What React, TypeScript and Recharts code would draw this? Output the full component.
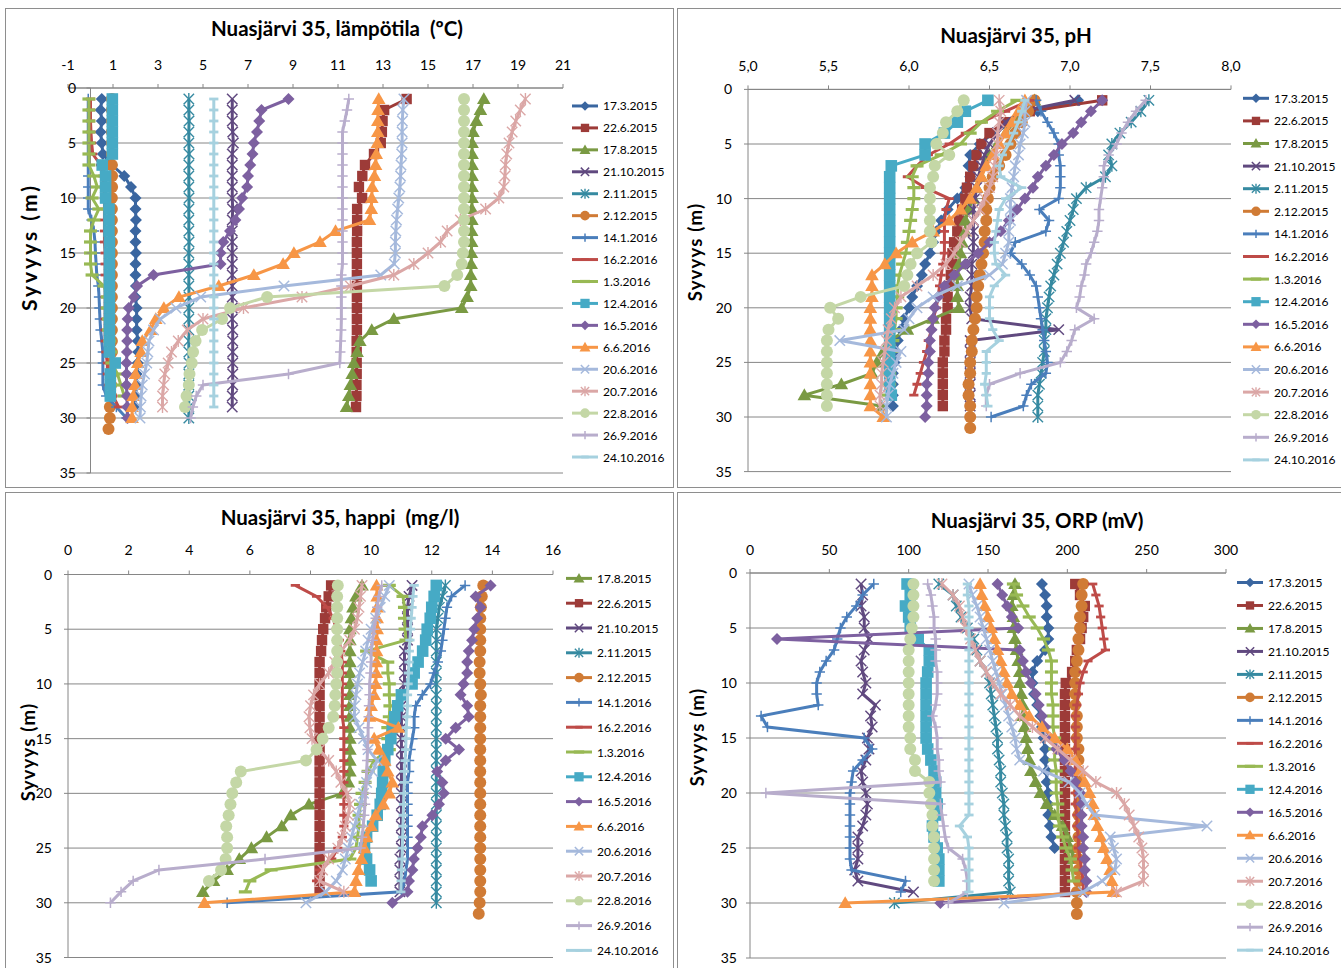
import React from 'react';
import { ScatterChart, Scatter, XAxis, YAxis, CartesianGrid, ReferenceLine } from 'recharts';

const FONT = 'Lato, "Open Sans", Arial, sans-serif';
const AXIS_GRAY = '#868686';

const ALL_DATES = ['17.3.2015','22.6.2015','17.8.2015','21.10.2015','2.11.2015','2.12.2015','14.1.2016','16.2.2016','1.3.2016','12.4.2016','16.5.2016','6.6.2016','20.6.2016','20.7.2016','22.8.2016','26.9.2016','24.10.2016'];
const SERIES_COLORS = ['#3A66A0','#9D3B38','#7A9A43','#60497F','#368AA1','#D07B35','#4A7EBB','#BE4B48','#98B954','#46AAC5','#7D60A0','#F79646','#A5B9DC','#DBA7A6','#C4D7A6','#B8ADCC','#A6D1DF'];
const SERIES_MARKERS = ['diamond','square','triangle','x','star','circle','plus','dash','longdash','bigsquare','diamond','triangle','x','star','circle','plus','dash'];

const DEPTH_TICKS = [0, 5, 10, 15, 20, 25, 30, 35];

// ---------- Lämpötila (°C), values by depth 1,2,3... m ----------
const TEMP_DATES = ALL_DATES;
const TEMP_VALUES: number[][] = [
  [0.5,0.45,0.5,0.45,0.5,0.55,0.95,1.5,1.8,2.0,2.0,2.02,2.0,2.0,2.02,2.0,2.0,2.02,2.0,2.05,2.05,2.05,2.1,2.12,2.1,2.05,2.05,2.0,2.0],
  [14.05,13.05,12.98,12.95,12.9,12.6,12.2,12.08,11.93,12.07,11.85,11.85,11.85,11.84,11.84,11.84,11.84,11.84,11.84,11.84,11.84,11.84,11.83,11.83,11.83,11.83,11.82,11.82,11.8],
  [17.48,17.33,17.15,17.0,16.96,16.96,16.96,16.96,16.96,16.96,16.95,16.95,16.94,16.94,16.93,16.92,16.9,16.9,16.74,16.5,13.48,12.5,11.97,11.85,11.7,11.63,11.55,11.48,11.38],
  [6.3,6.3,6.3,6.32,6.35,6.3,6.3,6.3,6.3,6.3,6.32,6.3,6.3,6.3,6.3,6.3,6.3,6.3,6.3,6.3,6.3,6.32,6.32,6.32,6.32,6.32,6.32,6.3,6.3],
  [4.37,4.37,4.38,4.37,4.37,4.38,4.37,4.37,4.37,4.38,4.37,4.37,4.37,4.38,4.37,4.37,4.37,4.37,4.38,4.37,4.37,4.37,4.37,4.37,4.38,4.37,4.37,4.37,4.37,4.37],
  [0.95,0.95,0.95,0.95,0.95,0.95,0.95,0.96,0.96,0.95,0.95,0.95,0.95,0.95,0.95,0.95,0.95,0.95,0.95,0.95,0.95,0.95,0.95,0.95,0.93,0.93,0.92,0.92,0.86,0.86,0.8],
  [-0.1,-0.1,-0.1,-0.1,-0.1,-0.1,-0.1,-0.1,-0.1,-0.1,-0.1,0.05,0.15,0.2,0.22,0.25,0.28,0.35,0.38,0.4,0.42,0.45,0.5,0.55,0.55,0.55,0.55,0.7,1.15,1.6],
  [0.0,0.0,0.0,0.02,0.05,0.1,0.45,0.55,0.6,0.62,0.62,0.62,0.62,0.62,0.65,0.65,0.65,0.65,0.65,0.65,0.65,0.65,0.65,0.68,0.75,0.75,0.8,1.0,1.25],
  [-0.07,-0.07,-0.07,-0.07,-0.07,-0.07,-0.07,0.15,0.3,0.07,0.37,0.15,0.0,0.0,0.0,0.0,0.07,0.6,0.75,0.75,0.8,0.8,0.85,0.9,0.95,1.2,1.35,1.5],
  [0.97,0.97,0.97,0.97,0.97,0.97,0.52,0.67,0.67,0.67,0.82,0.82,0.82,0.84,0.84,0.84,0.84,0.84,0.84,0.84,0.84,0.84,0.84,0.84,1.1,0.88,0.88,0.88],
  [8.8,7.6,7.5,7.4,7.26,7.2,7.1,7.0,6.96,6.74,6.6,6.44,6.2,5.9,5.78,5.78,2.8,2.07,1.93,1.7,1.65,1.63,1.63,1.62,1.6,1.6,1.6,1.62,1.63,1.65],
  [12.81,12.78,12.77,12.77,12.75,12.7,12.67,12.62,12.52,12.5,12.48,12.4,10.89,10.2,9.04,8.56,7.26,5.7,3.93,3.26,2.9,2.67,2.3,2.25,2.1,2.0,1.98,1.9,1.85,1.85],
  [13.93,13.88,13.86,13.85,13.85,13.83,13.8,13.78,13.75,13.7,13.65,13.6,13.57,13.55,13.55,13.5,12.9,8.6,4.9,3.8,3.1,2.8,2.6,2.55,2.5,2.4,2.3,2.25,2.22,2.2],
  [19.33,19.1,18.9,18.74,18.6,18.5,18.44,18.42,18.37,18.15,17.56,16.44,15.85,15.56,15.0,14.37,13.48,11.55,9.4,6.8,5.0,4.3,3.9,3.6,3.45,3.3,3.25,3.2,3.2],
  [16.6,16.6,16.6,16.6,16.6,16.6,16.6,16.6,16.6,16.6,16.6,16.6,16.6,16.6,16.55,16.5,16.3,15.73,7.85,6.2,5.85,4.96,4.67,4.56,4.5,4.4,4.37,4.27,4.2],
  [11.48,11.4,11.3,11.2,11.2,11.2,11.2,11.2,11.2,11.2,11.2,11.2,11.2,11.2,11.2,11.2,11.15,11.15,11.15,11.15,11.15,11.14,11.12,11.1,11.08,8.8,5.0,4.7,4.55,4.45],
  [5.48,5.48,5.48,5.48,5.48,5.48,5.48,5.48,5.48,5.48,5.48,5.48,5.48,5.48,5.48,5.48,5.48,5.48,5.48,5.48,5.48,5.48,5.48,5.48,5.48,5.48,5.48,5.48,5.48],
];
const TEMP_TICKS = [-1, 1, 3, 5, 7, 9, 11, 13, 15, 17, 19, 21];

// ---------- pH ----------
const PH_DATES = ALL_DATES;
const PH_VALUES: number[][] = [
  [7.05,6.8,6.65,6.52,6.44,6.38,6.37,6.38,6.35,6.3,6.24,6.2,6.17,6.15,6.13,6.1,6.08,6.05,6.02,6.0,5.97,5.95,5.93,5.92,5.91,5.9,5.9,5.9,5.9],
  [7.2,6.75,6.6,6.5,6.45,6.42,6.4,6.38,6.36,6.35,6.33,6.31,6.3,6.28,6.27,6.27,6.26,6.25,6.24,6.24,6.23,6.23,6.22,6.22,6.21,6.21,6.21,6.21,6.21],
  [6.78,6.72,6.65,6.6,6.55,6.5,6.47,6.45,6.42,6.4,6.37,6.35,6.35,6.33,6.32,6.31,6.3,6.3,6.3,6.31,6.15,5.99,5.88,5.84,5.8,5.77,5.58,5.35,5.83],
  [7.03,6.7,6.6,6.55,6.5,6.47,6.45,6.43,6.42,6.41,6.4,6.4,6.4,6.4,6.4,6.39,6.39,6.39,6.38,6.38,6.39,6.93,6.38,6.38,6.38,6.38,6.38,6.38,6.38],
  [7.49,7.44,7.38,7.31,7.26,7.24,7.26,7.22,7.1,7.04,7.02,7.0,6.98,6.96,6.94,6.92,6.9,6.88,6.87,6.86,6.85,6.85,6.84,6.84,6.83,6.82,6.81,6.8,6.8,6.8],
  [6.78,6.74,6.7,6.66,6.63,6.6,6.56,6.52,6.5,6.49,6.48,6.48,6.47,6.47,6.46,6.45,6.44,6.43,6.42,6.42,6.41,6.4,6.39,6.39,6.38,6.38,6.37,6.37,6.38,6.38,6.38],
  [6.79,6.82,6.86,6.9,6.93,6.93,6.94,6.94,6.94,6.93,6.81,6.87,6.85,6.66,6.63,6.7,6.75,6.79,6.8,6.81,6.82,6.83,6.84,6.85,6.86,6.85,6.76,6.73,6.71,6.51],
  [6.75,6.6,6.45,6.35,6.25,6.12,6.05,5.99,6.1,6.25,6.23,6.22,6.22,6.22,6.22,6.21,6.2,6.19,6.18,6.17,6.15,6.14,6.12,6.11,6.09,6.07,6.05,6.03],
  [6.67,6.55,6.45,6.38,6.32,6.2,6.05,6.02,6.03,6.03,6.02,6.01,6.0,5.99,5.98,5.96,5.94,5.93,5.93,5.92,5.92,5.91,5.9,5.9,5.89,5.88,5.88,5.87],
  [6.49,6.35,6.3,6.22,6.1,6.1,5.89,5.88,5.88,5.88,5.88,5.88,5.88,5.88,5.88,5.88,5.88,5.88,5.88,5.88,5.88,5.88,5.88,5.88,5.88,5.88,5.88,5.89],
  [7.2,7.13,7.07,7.02,6.95,6.9,6.85,6.8,6.77,6.72,6.67,6.62,6.57,6.5,6.43,6.35,6.28,6.22,6.18,6.16,6.15,6.14,6.13,6.13,6.12,6.12,6.11,6.11,6.11,6.1],
  [6.72,6.68,6.64,6.6,6.56,6.52,6.48,6.45,6.42,6.38,6.32,6.25,6.15,6.02,5.92,5.85,5.77,5.77,5.77,5.76,5.76,5.76,5.76,5.76,5.76,5.76,5.76,5.76,5.76,5.84],
  [6.73,6.72,6.72,6.71,6.69,6.68,6.66,6.65,6.64,6.63,6.63,6.63,6.62,6.62,6.6,6.58,6.5,6.3,6.15,6.05,6.0,5.97,5.57,5.95,5.92,5.9,5.88,5.87,5.86,5.86],
  [6.56,6.57,6.56,6.55,6.55,6.54,6.53,6.52,6.5,6.47,6.44,6.4,6.36,6.32,6.28,6.23,6.15,6.05,5.95,5.91,5.89,5.87,5.86,5.85,5.84,5.83,5.83,5.82,5.82],
  [6.34,6.3,6.23,6.21,6.17,6.25,6.16,6.15,6.13,6.13,6.13,6.13,6.13,6.14,6.05,6.01,5.99,5.97,5.7,5.51,5.56,5.5,5.49,5.49,5.49,5.49,5.49,5.49,5.49],
  [7.47,7.41,7.36,7.32,7.29,7.24,7.21,7.21,7.2,7.19,7.18,7.18,7.17,7.15,7.13,7.1,7.09,7.07,7.06,7.04,7.15,7.03,7.01,6.98,6.94,6.69,6.5,6.48,6.48],
  [6.72,6.7,6.68,6.65,6.62,6.58,6.56,6.57,6.7,6.6,6.56,6.55,6.54,6.53,6.53,6.54,6.6,6.53,6.5,6.5,6.5,6.52,6.56,6.48,6.48,6.48,6.47,6.48,6.49],
];
const PH_TICKS = [5, 5.5, 6, 6.5, 7, 7.5, 8];

// ---------- Happi (mg/l) ----------
const O2_DATES = ['17.8.2015','22.6.2015','21.10.2015','2.11.2015','2.12.2015','14.1.2016','16.2.2016','1.3.2016','12.4.2016','16.5.2016','6.6.2016','20.6.2016','20.7.2016','22.8.2016','26.9.2016','24.10.2016'];
const O2_VALUES: number[][] = [
  [9.7,9.5,9.4,9.35,9.3,9.3,9.3,9.3,9.3,9.3,9.3,9.3,9.3,9.3,9.3,9.3,9.3,9.3,9.25,9.05,7.95,7.35,7.05,6.55,6.05,5.65,5.25,4.8,4.45],
  [8.68,8.6,8.52,8.48,8.42,8.38,8.35,8.3,8.3,8.3,8.3,8.3,8.3,8.3,8.3,8.3,8.3,8.3,8.3,8.3,8.3,8.3,8.3,8.3,8.3,8.3,8.3,8.3,8.3],
  [11.35,11.25,11.2,11.2,11.2,11.2,11.1,11.1,11.1,11.1,11.0,11.0,11.0,11.0,11.0,11.0,11.0,11.0,11.0,11.0,11.0,11.0,11.0,11.0,11.0,10.95,10.95,10.95,10.95],
  [12.45,12.35,12.25,12.2,12.15,12.15,12.15,12.15,12.15,12.15,12.15,12.15,12.15,12.15,12.15,12.15,12.15,12.15,12.15,12.15,12.15,12.15,12.15,12.15,12.15,12.15,12.15,12.15,12.15,12.15],
  [13.7,13.65,13.62,13.6,13.6,13.6,13.6,13.58,13.58,13.6,13.62,13.6,13.6,13.6,13.6,13.6,13.6,13.6,13.6,13.6,13.6,13.6,13.6,13.6,13.6,13.6,13.6,13.6,13.6,13.58,13.55],
  [13.1,12.65,12.5,12.45,12.4,12.35,12.3,12.2,12.07,11.96,11.69,11.47,11.42,11.42,11.36,11.3,11.25,11.25,11.2,11.2,11.2,11.2,11.2,11.2,11.2,11.2,11.15,11.1,11.0,5.25],
  [7.5,8.2,8.55,8.75,8.85,8.95,9.0,9.05,9.05,9.05,9.05,9.05,9.05,9.1,9.1,9.1,9.1,9.1,9.1,9.1,9.1,9.1,9.1,9.05,8.9,8.7,8.3,8.2],
  [10.6,11.05,11.1,11.1,11.12,11.15,9.85,10.55,10.55,10.6,10.6,10.62,10.6,10.55,10.55,10.6,10.1,9.9,9.8,9.7,9.65,9.6,9.6,9.55,9.5,9.3,6.7,6.0,5.85],
  [12.15,12.08,12.0,11.95,11.85,11.8,11.7,11.55,11.42,11.35,11.0,10.88,10.78,10.7,10.65,10.55,10.45,10.4,10.38,10.35,10.3,10.2,10.05,9.85,9.78,9.85,9.95,10.0],
  [13.94,13.45,13.61,13.5,13.4,13.33,13.22,13.17,13.17,13.05,12.95,13.17,13.22,12.79,12.46,12.9,12.46,12.18,12.35,12.4,12.24,12.02,11.69,11.64,11.53,11.41,11.36,11.25,11.2,10.7],
  [10.18,10.2,10.2,10.2,10.2,10.18,10.18,10.17,10.17,10.15,10.1,10.0,9.95,10.9,10.1,10.25,10.45,10.55,10.7,10.6,10.4,10.15,10.0,9.85,9.78,9.68,9.58,9.5,9.45,4.5],
  [10.6,10.45,10.3,10.15,10.0,9.9,9.82,9.72,9.62,9.55,9.5,9.45,9.45,9.6,9.75,9.9,10.2,10.05,9.85,9.75,9.65,9.55,9.45,9.35,9.25,9.15,9.05,8.85,8.5,7.85],
  [9.7,9.65,9.6,9.55,9.45,9.3,9.0,8.8,8.6,8.3,8.1,8.0,7.95,7.98,8.05,8.3,8.6,8.85,9.0,9.2,9.3,9.25,9.15,9.05,8.9,8.6,8.4,8.3,9.1],
  [8.9,8.88,8.88,8.88,8.88,8.88,8.88,8.88,8.88,8.85,8.82,8.8,8.75,8.6,8.4,8.2,7.85,5.7,5.55,5.42,5.36,5.3,5.22,5.25,5.25,5.2,5.05,4.65],
  [10.35,10.25,10.2,10.15,10.1,10.05,10.0,10.0,9.98,9.95,9.95,9.93,9.92,9.9,9.9,9.88,9.87,9.85,9.84,9.82,9.8,9.77,9.74,9.7,9.65,6.5,3.0,2.15,1.75,1.4],
  [11.42,11.38,11.35,11.32,11.3,11.28,11.26,11.25,11.23,11.22,11.2,11.2,11.18,11.16,11.15,11.14,11.12,11.1,11.1,11.08,11.07,11.06,11.05,11.04,11.03,11.02,11.0,10.99,10.98],
];
const O2_TICKS = [0, 2, 4, 6, 8, 10, 12, 14, 16];

// ---------- ORP (mV) ----------
const ORP_DATES = ALL_DATES;
const ORP_VALUES: number[][] = [
  [184,186,187,187,188,188,186,181,178,178,179,181,183,184,185,186,186,187,187,188,188,188,189,190,192],
  [205,208,211,210,209,208,206,205,203,199,198.5,198.5,198.5,198.5,198.5,198.5,198.5,198.5,198.5,198.5,198.5,198.5,198.5,198.5,198.5,198.5,198.5,198.5,198.5],
  [167,166,165,166,166,167,168,169,170,170,171,172,172,173,174,175,176,177,180,183,187,192,197,200,202,204],
  [70,71,70,72,72,75,72,70,71,73,71,79,76,77,74,75,73,70,71,73,74,73,71,68,68,68,66,68,103],
  [119,128,130,133,137,141,143,145,149,151,152,153,154,155,156,156,157,158,158,159,160,160,161,162,162,163,163,163,164,91],
  [210,209,209,208,208,207,207,206,205,205,205,205,206,206,206,207,207,207,207,207,207,207,207,207,207,207,207,207,206,206,206],
  [78,71,67,61,57,55,53,48,44,42,42,43,7,11,72,77,71,65,64,63,63,63,63,63,63,63,64,98,95],
  [216,218,220,221,222,223,224,213,210,208,207,206,205,205,205,205,205,205,205,205,205,206,206,207,207,208,209,210,210],
  [166,168,172,176,181,185,188,190,190,190,190,191,191,191,192,192,192,193,193,193,194,194,195,197,199,202,203,204],
  [99,101,98,100,101,106,113,113,112,111,111,111,111,111,111,112,114,116,117,117,118,117,115,116,118,119,119,119],
  [156,159,162,165,169,17,170,172,174,177,180,182,184,186,189,193,198,202,205,208,209,209,209,210,210,211,211,212,212,120],
  [145,146,148,150,152,154,156,158,160,162,165,170,176,184,192,200,205,208,211,214,216,217,219,221,223,225,227,228,229,60],
  [138,140,143,145,147,149,151,153,155,157,159,161,163,165,167,168,170,185,201,208,212,217,288,227,229,231,230,222,210,160],
  [121,128,132,134,136,139,142,145,149,153,158,164,170,178,186,194,202,210,218,231,236,239,242,245,247,248,248,248,231],
  [103,103,103,103,102,101,100,100,100,100,100,100,100,100,101,101,104,104,113,113,114,115,115,116,116,116,116,116],
  [112,114,115,116,116,117,117,117,118,118,118,117,115,117,118,118,119,119,120,10,120,121,122,123,125,134,136,137,137,125],
  [137,137,138,138,138,138,138,138,138,138,138,138,138,138,138,138,138,138,138,138,138,138,132,137,138,138,138,138,138],
];
const ORP_TICKS = [0, 50, 100, 150, 200, 250, 300];

// ---------- helpers ----------
const styleOf = (date: string) => {
  const i = ALL_DATES.indexOf(date);
  return { color: SERIES_COLORS[i], marker: SERIES_MARKERS[i] };
};

const toPoints = (vals: number[]) => vals.map((v, i) => ({ x: v, y: i + 1 }));

function Marker({ cx, cy, kind, color, k = 1 }: { cx: number; cy: number; kind: string; color: string; k?: number }) {
  if (cx == null || cy == null || isNaN(cx) || isNaN(cy)) return null;
  switch (kind) {
    case 'diamond': {
      const r = 6 * k;
      return <polygon points={`${cx},${cy - r} ${cx + r},${cy} ${cx},${cy + r} ${cx - r},${cy}`} fill={color} />;
    }
    case 'square': {
      const r = 5.2 * k;
      return <rect x={cx - r} y={cy - r} width={2 * r} height={2 * r} fill={color} />;
    }
    case 'bigsquare': {
      const r = 5.8 * k;
      return <rect x={cx - r} y={cy - r} width={2 * r} height={2 * r} fill={color} />;
    }
    case 'triangle': {
      const r = 6.8 * k;
      return <polygon points={`${cx},${cy - r} ${cx + r},${cy + r * 0.75} ${cx - r},${cy + r * 0.75}`} fill={color} />;
    }
    case 'x': {
      const r = 5.2 * k;
      return (
        <g stroke={color} strokeWidth={1.5}>
          <line x1={cx - r} y1={cy - r} x2={cx + r} y2={cy + r} />
          <line x1={cx - r} y1={cy + r} x2={cx + r} y2={cy - r} />
        </g>
      );
    }
    case 'star': {
      const r = 5.2 * k;
      return (
        <g stroke={color} strokeWidth={1.4}>
          <line x1={cx - r} y1={cy - r} x2={cx + r} y2={cy + r} />
          <line x1={cx - r} y1={cy + r} x2={cx + r} y2={cy - r} />
          <line x1={cx} y1={cy - r - 0.8} x2={cx} y2={cy + r + 0.8} />
        </g>
      );
    }
    case 'circle':
      return <circle cx={cx} cy={cy} r={6 * k} fill={color} />;
    case 'plus': {
      const r = 5.2 * k;
      return (
        <g stroke={color} strokeWidth={1.5}>
          <line x1={cx - r} y1={cy} x2={cx + r} y2={cy} />
          <line x1={cx} y1={cy - r} x2={cx} y2={cy + r} />
        </g>
      );
    }
    case 'dash':
      return <line x1={cx - 4.6 * k} y1={cy} x2={cx + 4.6 * k} y2={cy} stroke={color} strokeWidth={2.8} />;
    case 'longdash':
      return <line x1={cx - 6.5 * k} y1={cy} x2={cx + 6.5 * k} y2={cy} stroke={color} strokeWidth={3.2} />;
    default:
      return null;
  }
}

type PanelProps = {
  left: number; top: number; width: number; height: number;
  margin: { top: number; right: number; bottom: number; left: number };
  xDomain: [number, number]; xTicks: number[]; xFormat: (v: number) => string;
  dates: string[]; values: number[][];
  xLabelY: number; yLabelX: number; zeroAxisX?: number;
};

function Panel(p: PanelProps) {
  const zero = p.zeroAxisX != null;
  return (
    <div style={{ position: 'absolute', left: p.left, top: p.top }}>
      <ScatterChart width={p.width} height={p.height} margin={p.margin}>
        <CartesianGrid horizontal vertical={false} stroke={AXIS_GRAY} strokeWidth={1} />
        <XAxis
          type="number" dataKey="x" orientation="top" domain={p.xDomain} ticks={p.xTicks}
          interval={0} allowDataOverflow height={30} stroke={AXIS_GRAY} tickSize={4}
          tick={(t: any) => (
            <text x={t.x} y={p.xLabelY} textAnchor="middle" fontSize={14} fontFamily={FONT} fill="#000">
              {p.xFormat(t.payload.value)}
            </text>
          )}
        />
        <YAxis
          type="number" dataKey="y" domain={[0, 35]} ticks={DEPTH_TICKS} reversed interval={0}
          allowDataOverflow width={40} stroke={AXIS_GRAY} axisLine={!zero} tickLine={!zero} tickSize={4}
          tick={(t: any) => (
            <g>
              {zero && <line x1={(p.zeroAxisX as number) - 4} x2={p.zeroAxisX as number} y1={t.y} y2={t.y} stroke={AXIS_GRAY} />}
              <text x={p.yLabelX} y={t.y + 5} textAnchor="end" fontSize={14} fontFamily={FONT} fill="#000">
                {t.payload.value}
              </text>
            </g>
          )}
        />
        {zero && <ReferenceLine x={0} stroke={AXIS_GRAY} strokeWidth={1} />}
        {p.dates.map((d, i) => {
          const st = styleOf(d);
          return (
            <Scatter
              key={d}
              name={d}
              data={toPoints(p.values[i])}
              fill={st.color}
              line={{ stroke: st.color, strokeWidth: 3 }}
              lineType="joint"
              isAnimationActive={false}
              shape={(s: any) => <Marker cx={s.cx} cy={s.cy} kind={st.marker} color={st.color} />}
            />
          );
        })}
      </ScatterChart>
    </div>
  );
}

function LegendBox({ left, top, rowH, dates }: { left: number; top: number; rowH: number; dates: string[] }) {
  return (
    <svg style={{ position: 'absolute', left, top }} width={100} height={rowH * dates.length}>
      {dates.map((d, i) => {
        const st = styleOf(d);
        const cy = rowH * i + rowH / 2;
        return (
          <g key={d}>
            <line x1={0} y1={cy} x2={26} y2={cy} stroke={st.color} strokeWidth={3} />
            <Marker cx={13} cy={cy} kind={st.marker} color={st.color} k={0.8} />
            <text x={31} y={cy + 4.5} fontSize={12} fontFamily={FONT} fill="#000">{d}</text>
          </g>
        );
      })}
    </svg>
  );
}

function Title({ cx, cy, text }: { cx: number; cy: number; text: string }) {
  return (
    <div style={{ position: 'absolute', left: cx - 300, top: cy - 13, width: 600, textAlign: 'center', fontFamily: FONT, fontWeight: 700, fontSize: 20.5, lineHeight: '26px', color: '#000', whiteSpace: 'pre' }}>
      {text}
    </div>
  );
}

function DepthLabel({ cx, cy, size, spacing }: { cx: number; cy: number; size: number; spacing: number }) {
  return (
    <div style={{ position: 'absolute', left: cx, top: cy, transform: 'translate(-50%, -50%) rotate(-90deg)', fontFamily: FONT, fontWeight: 700, fontSize: size, letterSpacing: spacing, whiteSpace: 'nowrap', color: '#000' }}>
      Syvyys (m)
    </div>
  );
}

const BORDER = '1px solid #8e8e8e';

export default function App() {
  const intFmt = (v: number) => String(v);
  const phFmt = (v: number) => v.toFixed(1).replace('.', ',');
  return (
    <div style={{ position: 'absolute', left: 0, top: 0, width: 1341, height: 968, background: '#fff', overflow: 'hidden' }}>
      <div style={{ position: 'absolute', left: 5, top: 8, width: 669, height: 480, border: BORDER, boxSizing: 'border-box' }} />
      <div style={{ position: 'absolute', left: 677, top: 8, width: 680, height: 480, border: BORDER, boxSizing: 'border-box' }} />
      <div style={{ position: 'absolute', left: 5, top: 492, width: 669, height: 490, border: BORDER, boxSizing: 'border-box' }} />
      <div style={{ position: 'absolute', left: 677, top: 492, width: 680, height: 490, border: BORDER, boxSizing: 'border-box' }} />

      <Panel left={5} top={8} width={668} height={479} margin={{ top: 50, left: 23, right: 110, bottom: 14 }}
        xDomain={[-1, 21]} xTicks={TEMP_TICKS} xFormat={intFmt} dates={TEMP_DATES} values={TEMP_VALUES}
        xLabelY={62} yLabelX={71} zeroAxisX={85.5} />
      <Panel left={677} top={8} width={664} height={479} margin={{ top: 51.4, left: 31, right: 110, bottom: 15.4 }}
        xDomain={[5, 8]} xTicks={PH_TICKS} xFormat={phFmt} dates={PH_DATES} values={PH_VALUES}
        xLabelY={63} yLabelX={55} />
      <Panel left={5} top={492} width={668} height={476} margin={{ top: 52.5, left: 23, right: 120, bottom: 10.5 }}
        xDomain={[0, 16]} xTicks={O2_TICKS} xFormat={intFmt} dates={O2_DATES} values={O2_VALUES}
        xLabelY={63} yLabelX={47} />
      <Panel left={677} top={492} width={664} height={476} margin={{ top: 51, left: 33, right: 115, bottom: 10 }}
        xDomain={[0, 300]} xTicks={ORP_TICKS} xFormat={intFmt} dates={ORP_DATES} values={ORP_VALUES}
        xLabelY={63} yLabelX={60} />

      <Title cx={337} cy={28} text={'Nuasjärvi 35, lämpötila  (ºC)'} />
      <Title cx={1016} cy={35} text={'Nuasjärvi 35, pH'} />
      <Title cx={340} cy={517} text={'Nuasjärvi 35, happi  (mg/l)'} />
      <Title cx={1037} cy={520} text={'Nuasjärvi 35, ORP (mV)'} />

      <DepthLabel cx={28} cy={247} size={21} spacing={3} />
      <DepthLabel cx={695} cy={252} size={18.5} spacing={1.2} />
      <DepthLabel cx={28} cy={752} size={18.5} spacing={1.2} />
      <DepthLabel cx={697} cy={737} size={18.5} spacing={1.2} />

      <LegendBox left={572} top={95} rowH={21.94} dates={TEMP_DATES} />
      <LegendBox left={1243} top={86.7} rowH={22.6} dates={PH_DATES} />
      <LegendBox left={566} top={565.6} rowH={24.8} dates={O2_DATES} />
      <LegendBox left={1237} top={570.5} rowH={22.98} dates={ORP_DATES} />
    </div>
  );
}
